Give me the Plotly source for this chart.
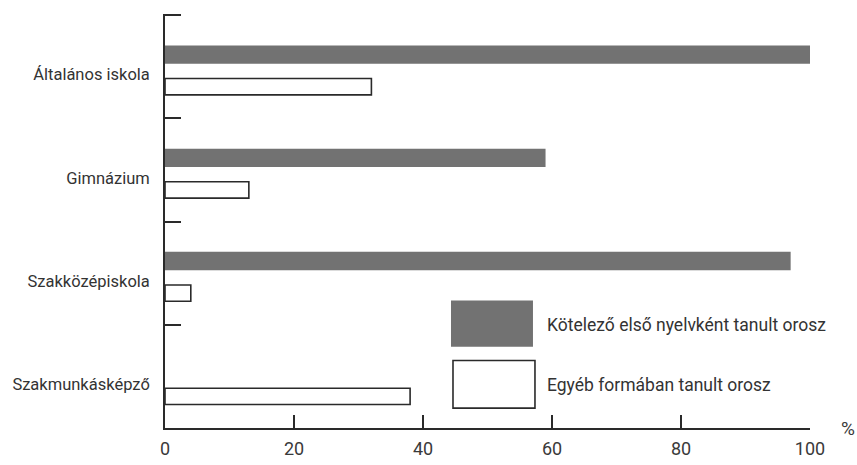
import plotly.graph_objects as go

categories = ["Általános iskola", "Gimnázium", "Szakközépiskola", "Szakmunkásképző"]
kotelezo = [100, 59, 97, None]
egyeb = [32, 13, 4, 38]
x_ticks = [0, 20, 40, 60, 80, 100]
series_names = ["Kötelező első nyelvként tanult orosz", "Egyéb formában tanult orosz"]

FONT = "Roboto, Liberation Sans, sans-serif"
DARK = "#727272"
INK = "#2a2a2a"

fig = go.Figure()
fig.add_trace(go.Bar(
    y=categories, x=kotelezo, orientation="h", name=series_names[0],
    offset=-0.206, width=0.177,
    marker=dict(color=DARK, line=dict(width=0)),
    showlegend=False,
))
fig.add_trace(go.Bar(
    y=categories, x=egyeb, orientation="h", name=series_names[1],
    offset=0.115, width=0.158,
    marker=dict(color="white", line=dict(color=INK, width=1.6)),
    showlegend=False,
))

fig.update_layout(
    width=857, height=465,
    margin=dict(l=165, r=47, t=14, b=37, autoexpand=False),
    paper_bgcolor="white", plot_bgcolor="white",
    barmode="overlay",
    font=dict(family=FONT, size=16, color="#3a3a3a"),
    xaxis=dict(
        range=[0, 100], tickvals=x_ticks, ticks="inside", ticklen=13,
        tickwidth=1.6, tickcolor=INK, showline=True, linecolor=INK,
        linewidth=1.8, showgrid=False, zeroline=False, automargin=False,
        tickfont=dict(size=18, color="#3a3a3a"), ticklabelstandoff=3,
    ),
    yaxis=dict(
        categoryorder="array", categoryarray=categories,
        range=[3.5, -0.51], autorange=False, tickson="boundaries",
        ticks="inside", ticklen=16, tickwidth=1.6, tickcolor=INK,
        showline=True, linecolor=INK, linewidth=1.8, showgrid=False,
        zeroline=False, automargin=False,
        tickfont=dict(size=16.5, color="#333"),
        ticklabelstandoff=10, ticklabelshift=-8,
    ),
)

# legend drawn as large swatches like the original
fig.add_shape(type="rect", xref="paper", yref="paper",
              x0=0.4434, x1=0.5705, y0=0.196, y1=0.308,
              fillcolor=DARK, line=dict(width=0))
fig.add_shape(type="rect", xref="paper", yref="paper",
              x0=0.4465, x1=0.5736, y0=0.048, y1=0.163,
              fillcolor="white", line=dict(color=INK, width=1.6))
fig.add_annotation(xref="paper", yref="paper", x=0.5891, y=0.249,
                   text=series_names[0], showarrow=False,
                   xanchor="left", yanchor="middle",
                   font=dict(size=17.5, color="#333"))
fig.add_annotation(xref="paper", yref="paper", x=0.5891, y=0.103,
                   text=series_names[1], showarrow=False,
                   xanchor="left", yanchor="middle",
                   font=dict(size=17.5, color="#333"))
fig.add_annotation(xref="paper", yref="paper", x=1.0589, y=0.0,
                   text="%", showarrow=False, xanchor="center",
                   yanchor="middle", font=dict(size=19, color="#3a3a3a"))

fig.write_html(
    "out.html",
    config={"displayModeBar": False},
    post_script="document.body.style.margin='0';document.body.style.overflow='hidden';",
)
